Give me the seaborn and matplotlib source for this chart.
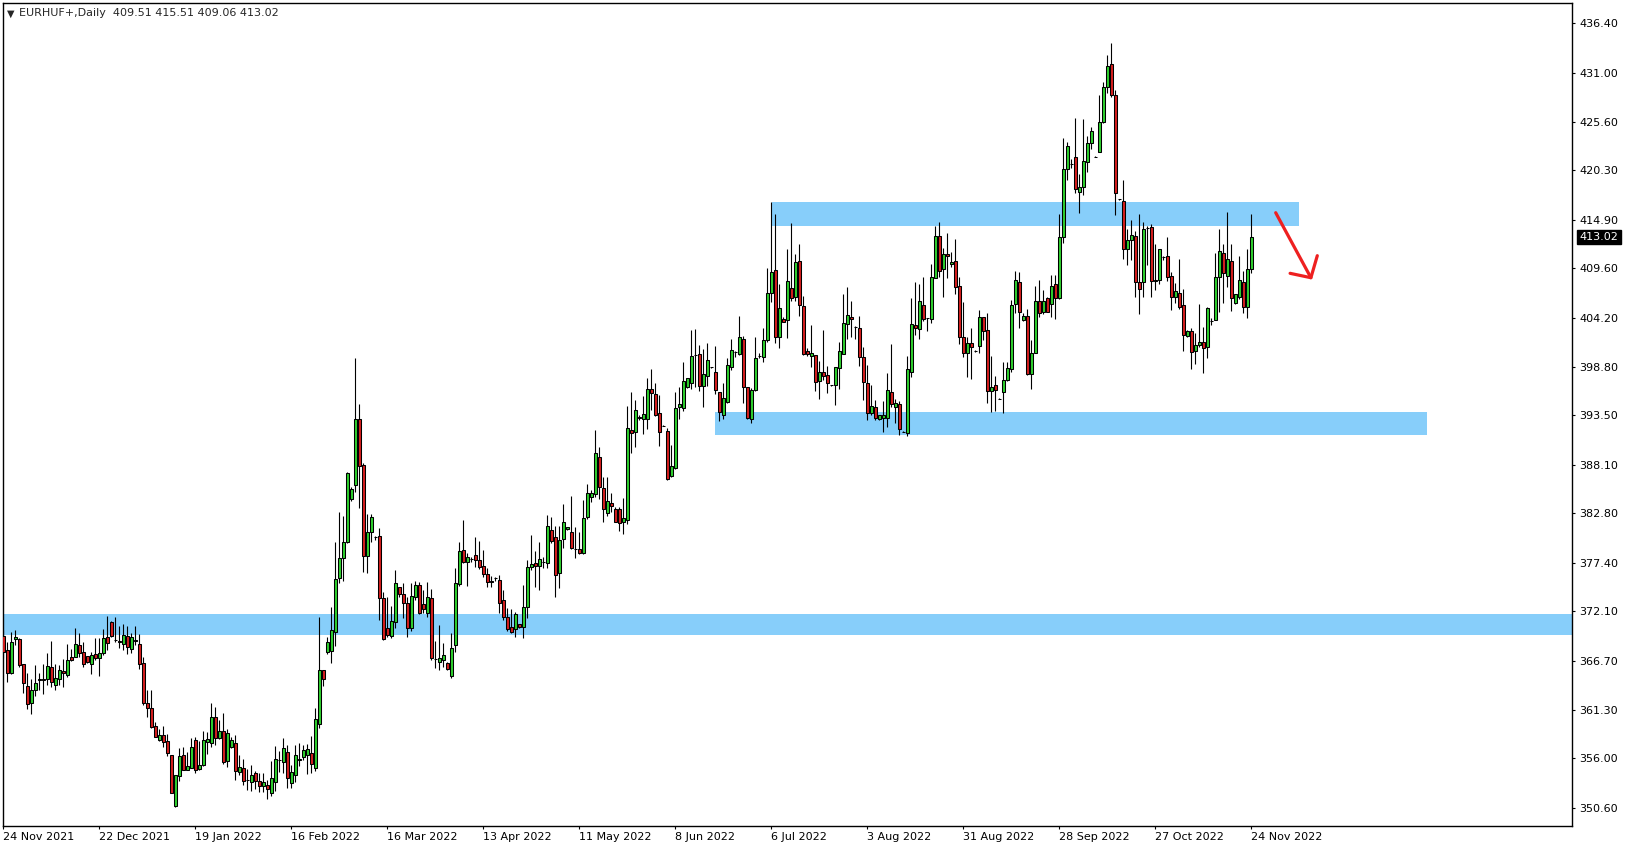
import numpy as np
import pandas as pd
import matplotlib
matplotlib.use("Agg")
import matplotlib.pyplot as plt
import seaborn as sns

# EURHUF+ daily candles, 24 Nov 2021 .. 24 Nov 2022 (broker has Sunday bars)
opens = [
    369.38, 367.85, 365.29, 369.09, 369.05, 366.32, 363.87, 362.09, 363.44, 364.57,
    364.64, 364.64, 365.95, 363.98, 364.64, 365.55, 365.08, 367.08, 367.12, 368.36,
    367.63, 367.19, 366.28, 367.37, 367.01, 367.48, 369.23, 370.91, 368.90, 368.83,
    368.54, 369.34, 367.99, 368.94, 368.50, 366.39, 362.01, 361.47, 359.53, 357.97,
    358.51, 357.86, 356.36, 350.78, 354.10, 356.36, 354.76, 354.98, 358.04, 354.79,
    355.31, 357.82, 357.64,
    360.48, 358.19, 359.03, 355.67, 357.20, 357.64, 354.54, 354.91, 353.66, 353.45,
    354.36, 353.52, 353.01, 353.08, 352.17, 353.37, 355.82, 355.63, 356.65, 353.34,
    354.14, 355.85, 356.15, 356.40, 356.58, 354.98, 359.72, 365.66, 367.59, 367.74,
    369.85, 375.69, 377.88, 379.70, 384.40, 385.86, 393.12, 388.08, 378.09, 380.72,
    380.17, 380.28, 373.50, 370.22, 369.42, 370.95, 374.70, 373.94, 372.95, 370.29,
    373.68, 374.96, 372.88,
    371.86, 373.50, 366.87, 366.50, 366.76, 366.39, 365.01, 368.40, 375.03, 378.75,
    377.48, 377.80, 378.20, 377.69, 377.04, 376.13, 375.43, 375.76, 375.47, 373.32,
    371.50, 370.33, 370.11, 370.66, 370.40, 372.52, 376.89, 377.33, 377.04, 377.44,
    377.33, 380.98, 380.17, 376.24, 379.95, 381.08, 380.72, 378.93, 378.86, 378.42,
    382.36, 384.55, 384.88, 388.92, 385.53, 382.80, 383.89, 383.31, 383.24, 381.81,
    382.03, 391.91, 391.66,
    393.27, 393.16, 393.16, 396.37, 395.86, 393.74, 392.39, 391.77, 386.89, 387.73,
    394.47, 394.36, 396.59, 397.10, 400.12, 400.19, 396.77, 397.83, 398.77, 398.23,
    396.08, 393.56, 395.02, 398.81, 400.49, 400.19, 401.84, 396.59, 393.09, 396.29,
    400.05, 399.87, 401.73, 406.87, 409.42, 402.13, 404.06, 403.95, 407.45, 406.50,
    410.40, 405.48, 400.52, 400.05, 400.12, 397.32, 398.23, 397.93, 396.80, 396.84,
    398.74, 400.27, 403.48,
    404.24, 403.15, 403.04, 399.87, 397.02, 393.81, 394.40, 393.09, 393.27, 393.27,
    396.08, 394.40, 394.73, 391.74, 391.63, 398.30, 403.40, 402.93, 405.59, 404.21,
    404.02, 408.58, 413.10, 409.49, 411.17, 410.04, 410.40, 407.63, 402.09, 400.38,
    401.40, 400.60, 401.07, 404.28, 402.82, 396.22, 396.84, 395.35, 396.11, 397.35,
    398.59, 405.66, 408.11, 403.91, 404.39, 398.01, 400.38, 406.03, 404.79, 406.39,
    405.70, 407.85, 406.32,
    412.99, 420.43, 421.05, 421.74, 417.99, 418.46, 421.27, 423.27, 421.81, 422.29,
    425.57, 429.40, 431.95, 428.52, 417.15, 416.97, 411.68, 412.70, 413.14, 408.07,
    408.07, 414.05, 414.09, 408.18, 408.29, 410.88, 410.95, 408.76, 406.50, 406.90,
    405.55, 402.16, 402.75, 400.52, 401.18, 401.54, 401.03, 403.88, 403.95, 408.62,
    411.28, 408.80, 410.40, 405.77, 406.50, 408.11, 405.41, 409.51,
]

highs = [
    369.99, 368.76, 369.78, 370.00, 369.20, 366.32, 365.29, 364.64, 366.24, 365.29,
    366.32, 367.48, 368.83, 366.32, 366.17, 366.83, 368.47, 367.96, 370.25, 369.74,
    368.69, 367.19, 367.66, 369.12, 369.16, 370.18, 371.57, 370.98, 371.49, 370.47,
    370.65, 370.51, 369.74, 370.47, 369.60, 367.04, 363.47, 363.47, 360.01, 359.17,
    359.53, 358.66, 356.40, 354.18, 357.09, 357.20, 356.73, 358.19, 358.37, 357.93,
    359.02, 358.91, 362.01,
    361.58, 360.19, 360.92, 359.21, 358.37, 358.55, 356.36, 355.89, 354.83, 355.27,
    354.61, 354.36, 354.36, 353.63, 355.71, 357.35, 356.80, 358.19, 357.46, 355.27,
    357.46, 357.71, 357.46, 357.57, 358.48, 361.47, 371.50, 365.66, 369.23, 372.55,
    379.70, 382.98, 382.54, 387.36, 385.71, 399.82, 394.76, 388.27, 382.72, 382.72,
    380.36, 381.23, 374.23, 373.68, 372.70, 376.60, 374.70, 375.21, 373.68, 375.21,
    375.40, 375.25, 374.41,
    375.25, 374.49, 368.83, 370.58, 368.58, 366.57, 369.75, 376.78, 379.66, 382.07,
    378.42, 378.06, 380.21, 379.77, 378.79, 376.78, 375.94, 375.80, 376.05, 374.41,
    372.41, 372.33, 371.97, 370.66, 374.96, 377.69, 380.43, 378.68, 379.70, 378.06,
    382.62, 382.36, 381.41, 381.41, 383.82, 381.34, 384.69, 381.34, 380.79, 384.26,
    385.97, 385.35, 391.91, 390.02, 386.81, 386.81, 384.99, 383.53, 383.53, 384.44,
    394.54, 396.11, 395.19,
    393.56, 395.64, 397.57, 398.59, 397.10, 395.75, 392.47, 392.10, 390.28, 396.11,
    396.66, 399.36, 397.57, 402.86, 402.97, 401.22, 400.78, 401.40, 398.85, 401.11,
    396.08, 397.02, 399.83, 401.84, 400.56, 404.39, 402.20, 396.59, 396.55, 402.13,
    400.30, 403.08, 409.60, 416.82, 415.54, 407.89, 404.24, 411.68, 414.52, 411.17,
    412.26, 406.58, 400.89, 403.40, 400.12, 399.50, 402.86, 398.92, 396.84, 398.81,
    401.58, 406.79, 407.52,
    406.03, 403.29, 404.39, 401.00, 399.03, 396.84, 395.20, 393.52, 395.09, 398.19,
    401.33, 395.27, 395.09, 391.77, 400.01, 406.39, 408.14, 407.89, 408.62, 404.21,
    410.08, 414.23, 414.63, 411.79, 413.50, 411.42, 412.81, 408.62, 405.92, 402.13,
    403.11, 400.67, 405.04, 404.28, 404.72, 400.01, 397.83, 395.42, 399.32, 399.32,
    406.14, 409.31, 409.24, 404.68, 405.15, 401.76, 407.67, 408.33, 407.23, 406.50,
    408.87, 408.87, 415.54,
    423.89, 423.42, 421.52, 426.01, 419.92, 425.93, 424.08, 425.06, 421.85, 428.56,
    429.95, 432.94, 434.21, 429.11, 417.18, 419.26, 413.87, 414.89, 413.65, 415.54,
    414.71, 414.27, 414.41, 412.26, 411.72, 410.91, 413.07, 409.24, 407.96, 410.62,
    407.34, 402.86, 403.04, 402.49, 405.70, 403.22, 405.41, 404.13, 411.32, 413.90,
    412.26, 415.80, 412.30, 406.76, 410.99, 409.35, 411.72, 415.51,
]

lows = [
    367.01, 364.38, 365.19, 368.39, 366.02, 363.18, 361.39, 360.85, 362.82, 363.47,
    363.00, 363.98, 363.84, 363.47, 364.02, 363.84, 364.93, 366.68, 367.10, 367.12,
    365.99, 366.39, 365.22, 366.75, 365.04, 367.30, 367.85, 369.31, 368.76, 368.03,
    367.85, 367.41, 367.48, 368.39, 365.81, 361.83, 360.48, 359.28, 358.29, 357.93,
    357.27, 356.25, 352.17, 350.71, 353.56, 354.72, 354.69, 354.90, 354.43, 354.72,
    355.16, 356.43, 357.27,
    357.46, 358.08, 355.34, 355.09, 357.09, 353.63, 354.18, 353.08, 352.54, 352.46,
    352.65, 352.35, 352.35, 351.52, 351.92, 352.46, 354.54, 354.43, 352.72, 352.72,
    353.45, 355.20, 355.82, 354.25, 354.36, 354.61, 359.28, 363.95, 367.37, 366.39,
    368.32, 375.14, 375.43, 379.52, 384.18, 385.17, 383.38, 376.42, 376.31, 379.70,
    379.88, 371.13, 368.94, 369.31, 369.20, 370.29, 373.68, 371.39, 369.23, 369.93,
    373.28, 371.75, 371.86,
    371.50, 366.76, 365.84, 365.66, 366.03, 365.66, 364.75, 367.67, 374.89, 377.40,
    374.89, 377.51, 376.96, 376.71, 375.87, 374.78, 374.78, 375.43, 371.86, 371.13,
    369.96, 369.75, 369.31, 370.29, 369.13, 371.39, 376.60, 374.78, 374.41, 376.78,
    376.78, 379.59, 373.68, 374.67, 378.97, 380.97, 378.86, 377.95, 378.31, 378.31,
    382.14, 384.07, 384.62, 384.33, 381.89, 382.51, 382.98, 381.89, 380.90, 380.50,
    381.63, 389.36, 390.02,
    393.01, 391.45, 391.99, 394.11, 393.49, 390.17, 392.32, 386.45, 386.81, 387.65,
    393.16, 394.03, 396.51, 396.44, 396.66, 396.19, 394.47, 396.73, 398.70, 395.82,
    392.94, 393.16, 394.91, 398.44, 399.94, 400.12, 394.91, 393.09, 392.65, 396.22,
    399.76, 399.32, 401.58, 405.96, 401.47, 400.85, 403.77, 402.02, 406.07, 406.07,
    404.42, 400.16, 400.01, 398.85, 396.22, 395.35, 397.39, 395.93, 396.77, 394.65,
    396.40, 400.19, 401.91,
    402.13, 401.87, 398.96, 395.20, 393.01, 393.56, 393.01, 393.01, 391.74, 392.21,
    394.47, 392.65, 391.37, 391.66, 391.30, 397.75, 402.35, 401.91, 403.84, 402.78,
    403.59, 408.51, 408.69, 406.50, 408.51, 409.78, 406.76, 401.29, 399.94, 397.75,
    397.50, 400.49, 400.38, 401.76, 394.91, 393.92, 394.03, 395.27, 393.74, 397.28,
    398.30, 404.68, 403.11, 403.88, 397.93, 396.40, 400.30, 404.32, 404.61, 404.79,
    404.32, 404.02, 406.25,
    412.41, 419.26, 420.61, 417.88, 415.62, 417.62, 420.17, 422.69, 421.78, 422.29,
    425.46, 428.74, 428.38, 415.43, 417.11, 410.59, 409.93, 410.51, 406.50, 404.61,
    406.43, 409.93, 406.43, 407.23, 407.89, 410.51, 408.25, 405.04, 405.85, 405.12,
    400.60, 402.09, 398.63, 399.10, 400.96, 398.12, 399.76, 403.40, 403.91, 404.86,
    405.85, 407.60, 404.97, 405.70, 406.21, 404.68, 404.13, 409.06,
]

closes = [
    367.66, 365.29, 368.69, 369.23, 366.24, 364.20, 361.90, 363.47, 364.20, 364.64,
    364.60, 366.06, 364.35, 364.78, 365.62, 365.29, 366.72, 366.79, 368.50, 367.52,
    366.35, 366.57, 367.26, 367.01, 367.52, 369.16, 368.65, 369.42, 368.94, 368.76,
    369.45, 368.14, 369.27, 368.80, 366.35, 362.01, 361.47, 359.39, 358.37, 358.55,
    357.82, 356.54, 352.24, 354.18, 356.25, 354.72, 355.12, 357.24, 354.72, 355.27,
    358.00, 358.11, 360.56,
    358.19, 359.03, 355.56, 358.73, 357.97, 354.58, 355.01, 353.56, 353.59, 354.18,
    353.56, 353.01, 353.45, 352.61, 353.81, 355.93, 355.85, 357.09, 353.81, 354.47,
    356.36, 355.93, 356.91, 357.02, 355.34, 360.30, 365.66, 364.64, 368.69, 370.00,
    375.58, 377.88, 379.70, 387.25, 385.42, 393.12, 388.01, 378.17, 380.72, 382.36,
    380.17, 373.50, 369.02, 369.49, 371.02, 375.14, 373.94, 372.95, 370.29, 373.76,
    374.96, 371.86, 372.30,
    373.61, 366.94, 366.90, 366.94, 367.30, 365.73, 368.03, 375.14, 378.64, 377.48,
    378.06, 377.80, 377.66, 376.96, 376.13, 375.32, 375.25, 375.73, 372.95, 371.50,
    370.11, 369.78, 371.79, 370.40, 372.52, 376.89, 377.26, 377.00, 377.77, 377.44,
    381.41, 379.81, 376.05, 379.88, 381.81, 381.27, 378.97, 378.93, 378.50, 382.29,
    384.99, 384.99, 389.36, 385.72, 383.24, 384.11, 383.64, 381.89, 381.70, 382.29,
    392.10, 391.62, 394.06,
    393.30, 393.63, 396.37, 395.93, 393.56, 391.74, 392.39, 386.52, 387.98, 394.29,
    394.73, 397.24, 397.57, 400.01, 400.12, 396.77, 398.01, 399.54, 398.77, 396.26,
    393.92, 395.38, 398.99, 400.63, 400.45, 402.06, 396.59, 393.27, 396.29, 399.76,
    400.05, 401.73, 406.87, 409.20, 402.13, 405.23, 403.77, 408.22, 406.32, 410.29,
    405.55, 400.23, 400.27, 400.34, 397.21, 398.23, 397.86, 397.02, 396.80, 398.81,
    400.52, 403.59, 404.46,
    404.02, 403.15, 399.94, 397.21, 393.81, 394.58, 393.27, 393.52, 393.52, 396.26,
    394.73, 394.84, 392.00, 391.74, 398.55, 403.48, 403.04, 405.99, 404.02, 404.21,
    408.62, 413.10, 409.31, 411.13, 410.95, 410.26, 407.60, 402.05, 400.38, 401.40,
    401.04, 400.60, 404.28, 402.78, 396.15, 396.59, 396.33, 395.35, 397.39, 398.66,
    405.59, 408.33, 404.86, 404.39, 398.01, 400.34, 406.03, 404.68, 405.99, 404.86,
    407.63, 406.32, 412.99,
    420.43, 422.95, 421.05, 418.24, 418.46, 421.34, 423.27, 424.62, 421.81, 425.57,
    429.40, 431.73, 428.52, 417.88, 417.15, 411.68, 412.70, 413.21, 408.07, 407.30,
    413.90, 414.05, 408.18, 408.33, 411.72, 410.88, 408.69, 406.50, 407.09, 405.41,
    402.27, 402.75, 400.49, 401.22, 401.54, 400.85, 405.26, 403.88, 408.65, 411.50,
    409.13, 410.62, 406.39, 406.76, 408.33, 405.41, 409.53, 413.02,
]

date_labels = ["24 Nov 2021", "22 Dec 2021", "19 Jan 2022", "16 Feb 2022",
               "16 Mar 2022", "13 Apr 2022", "11 May 2022", "8 Jun 2022",
               "6 Jul 2022", "3 Aug 2022", "31 Aug 2022", "28 Sep 2022",
               "27 Oct 2022", "24 Nov 2022"]
price_ticks = [436.40, 431.00, 425.60, 420.30, 414.90, 409.60, 404.20, 398.80,
               393.50, 388.10, 382.80, 377.40, 372.10, 366.70, 361.30, 356.00,
               350.60]

# supply / demand zones: (price low, price high)
zone_support = (369.52, 371.79)
zone_mid = (391.37, 393.91)
zone_resist = (414.26, 416.85)

last_price = 413.02
header = "EURHUF+,Daily  409.51 415.51 409.06 413.02"

sns.set_style("white")
plt.rcParams['font.family'] = ['DejaVu Sans']

df = pd.DataFrame({"open": opens, "high": highs, "low": lows, "close": closes})
df["bar"] = np.arange(len(df))
up = df["close"] >= df["open"]

W, H = 1629, 850
fig = plt.figure(figsize=(W / 100, H / 100), dpi=100)
ax = fig.add_axes([2.7 / W, 24 / H, (1572.3 - 2.7) / W, (826 - 2.7) / H])
ax.set_facecolor("white")

zone_col = "#87CEFA"
ax.fill_between([-1, 400], *zone_support, color=zone_col, lw=0, zorder=1)
ax.fill_between([177.9, 355.8], *zone_mid, color=zone_col, lw=0, zorder=1)
ax.fill_between([192.1, 323.9], *zone_resist, color=zone_col, lw=0, zorder=1)

# wicks + bodies
ax.vlines(df["bar"], df["low"], df["high"], color="black", lw=0.8, zorder=2)
body_lo = df[["open", "close"]].min(axis=1)
body_h = (df["close"] - df["open"]).abs()
colors = np.where(up, "#2ECF2E", "#D41E1E")
ax.bar(df["bar"], body_h, bottom=body_lo, width=0.72, color=colors,
       edgecolor="black", linewidth=0.75, zorder=3)

# hand drawn red arrow
arrow_kw = dict(color="#EE2020", lw=2.3, solid_capstyle="round",
                solid_joinstyle="round", zorder=4)
ax.plot([318.1, 326.9], [415.68, 408.57], **arrow_kw)
ax.plot([321.7, 326.9, 328.5], [409.05, 408.57, 410.98], **arrow_kw)

ax.set_xlim(-0.15, 392.25)
ax.set_ylim(348.60, 438.65)

ax.yaxis.tick_right()
ax.set_yticks(price_ticks)
ax.set_yticklabels(["%.2f" % v for v in price_ticks])
ax.set_xticks(np.arange(len(date_labels)) * 24)
ax.set_xticklabels(date_labels, ha="left")
ax.tick_params(axis="y", which="both", direction="out", length=2.5, width=0.8,
               pad=2.5, labelsize=8, colors="black", right=True, left=False)
ax.tick_params(axis="x", which="both", direction="out", length=2.5, width=0.8,
               pad=2, labelsize=8, colors="black", bottom=True)
for s in ax.spines.values():
    s.set_visible(True)
    s.set_color("black")
    s.set_linewidth(1.0)

# current price marker
ax.text(1.0045, last_price, "%.2f" % last_price, transform=ax.get_yaxis_transform(),
        color="white", fontsize=8, va="center", ha="left",
        bbox=dict(boxstyle="square,pad=0.22", fc="black", ec="black"))

fig.text(7 / W, 1 - 13.5 / H, "\u25BC", fontsize=7, va="center", ha="left")
fig.text(19 / W, 1 - 13.5 / H, header, fontsize=8, va="center", ha="left")

fig.savefig("out.png", dpi=100, facecolor="white")
